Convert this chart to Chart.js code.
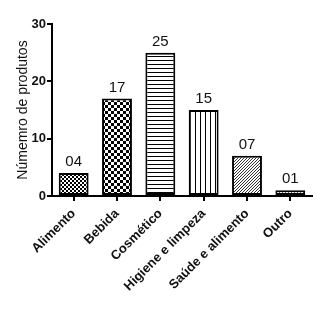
<!DOCTYPE html>
<html>
<head>
<meta charset="utf-8">
<script src="https://cdn.jsdelivr.net/npm/chart.js@4"></script>
<style>
  body { margin: 0; background: #fff; }
  canvas { display: block; }
</style>
</head>
<body>
<canvas id="chart" width="334" height="311"></canvas>
<script>
// --- Data ---
const categories = ['Alimento', 'Bebida', 'Cosmético', 'Higiene e limpeza', 'Saúde e alimento', 'Outro'];
const productCounts = [4, 17, 25, 15, 7, 1];
const valueLabels = ['04', '17', '25', '15', '07', '01'];
const yTicks = [0, 10, 20, 30];

// --- Fill patterns (small tiles repeated inside each bar) ---
function makePattern(size, draw) {
    const c = document.createElement('canvas');
    c.width = size;
    c.height = size;
    const g = c.getContext('2d');
    g.fillStyle = '#fff';
    g.fillRect(0, 0, size, size);
    g.fillStyle = '#000';
    draw(g, size);
    return g.createPattern(c, 'repeat');
}

const ctx = document.getElementById('chart').getContext('2d');

const patterns = [
    // fine checks
    makePattern(4, (g) => { g.fillRect(0, 0, 2, 2); g.fillRect(2, 2, 2, 2); }),
    // bigger checkerboard
    makePattern(6, (g) => { g.fillRect(0, 0, 3, 3); g.fillRect(3, 3, 3, 3); }),
    // horizontal lines
    makePattern(4, (g) => { g.fillRect(0, 0, 4, 1); }),
    // vertical lines
    makePattern(5, (g) => { g.fillRect(0, 0, 1, 5); }),
    // diagonal /
    makePattern(3, (g, s) => {
        g.fillStyle = '#333';
        for (let i = 0; i < s; i++) g.fillRect(i, s - 1 - i, 1, 1);
    }),
    // diagonal \
    makePattern(3, (g, s) => {
        g.fillStyle = '#333';
        for (let i = 0; i < s; i++) g.fillRect(i, i, 1, 1);
    })
];

// numbers above each bar
const valueLabelPlugin = {
    id: 'valueLabels',
    afterDatasetsDraw(chart) {
        const c = chart.ctx;
        const meta = chart.getDatasetMeta(0);
        c.save();
        c.font = '15px "Liberation Sans", Arial, sans-serif';
        c.fillStyle = '#111';
        c.textAlign = 'center';
        c.textBaseline = 'alphabetic';
        meta.data.forEach((bar, i) => {
            c.fillText(valueLabels[i], bar.x, bar.y - 7);
        });
        c.restore();
    }
};

new Chart(ctx, {
    type: 'bar',
    data: {
        labels: categories,
        datasets: [{
            data: productCounts,
            backgroundColor: patterns,
            borderColor: '#000',
            borderWidth: 2,
            borderSkipped: false,
            barPercentage: 0.69,
            categoryPercentage: 1
        }]
    },
    options: {
        responsive: false,
        devicePixelRatio: 1,
        animation: false,
        layout: { padding: { top: 24, right: 22, left: 0, bottom: 0 } },
        plugins: {
            legend: { display: false },
            tooltip: { enabled: false }
        },
        scales: {
            x: {
                grid: {
                    display: true,
                    drawOnChartArea: false,
                    drawTicks: true,
                    offset: false,
                    tickLength: 5,
                    color: '#000',
                    lineWidth: 2
                },
                border: { display: true, color: '#000', width: 2 },
                ticks: {
                    color: '#111',
                    font: { family: '"Liberation Sans", Arial, sans-serif', size: 13, weight: 'bold' },
                    maxRotation: 45,
                    minRotation: 45,
                    padding: 5,
                    autoSkip: false
                },
                afterFit(scale) { scale.height = 115; }
            },
            y: {
                min: 0,
                max: 30,
                afterBuildTicks(scale) { scale.ticks = yTicks.map(v => ({ value: v })); },
                grid: {
                    display: true,
                    drawOnChartArea: false,
                    drawTicks: true,
                    tickLength: 5,
                    color: '#000',
                    lineWidth: 2
                },
                border: { display: true, color: '#000', width: 2 },
                ticks: {
                    color: '#111',
                    font: { family: '"Liberation Sans", Arial, sans-serif', size: 13, weight: 'bold' },
                    padding: 1
                },
                title: {
                    display: true,
                    text: 'Númemro de produtos',
                    color: '#111',
                    font: { family: '"Liberation Sans", Arial, sans-serif', size: 14 },
                    padding: { top: 15, bottom: 0 }
                },
                afterFit(scale) { scale.width = 52; }
            }
        }
    },
    plugins: [valueLabelPlugin]
});
</script>
</body>
</html>
